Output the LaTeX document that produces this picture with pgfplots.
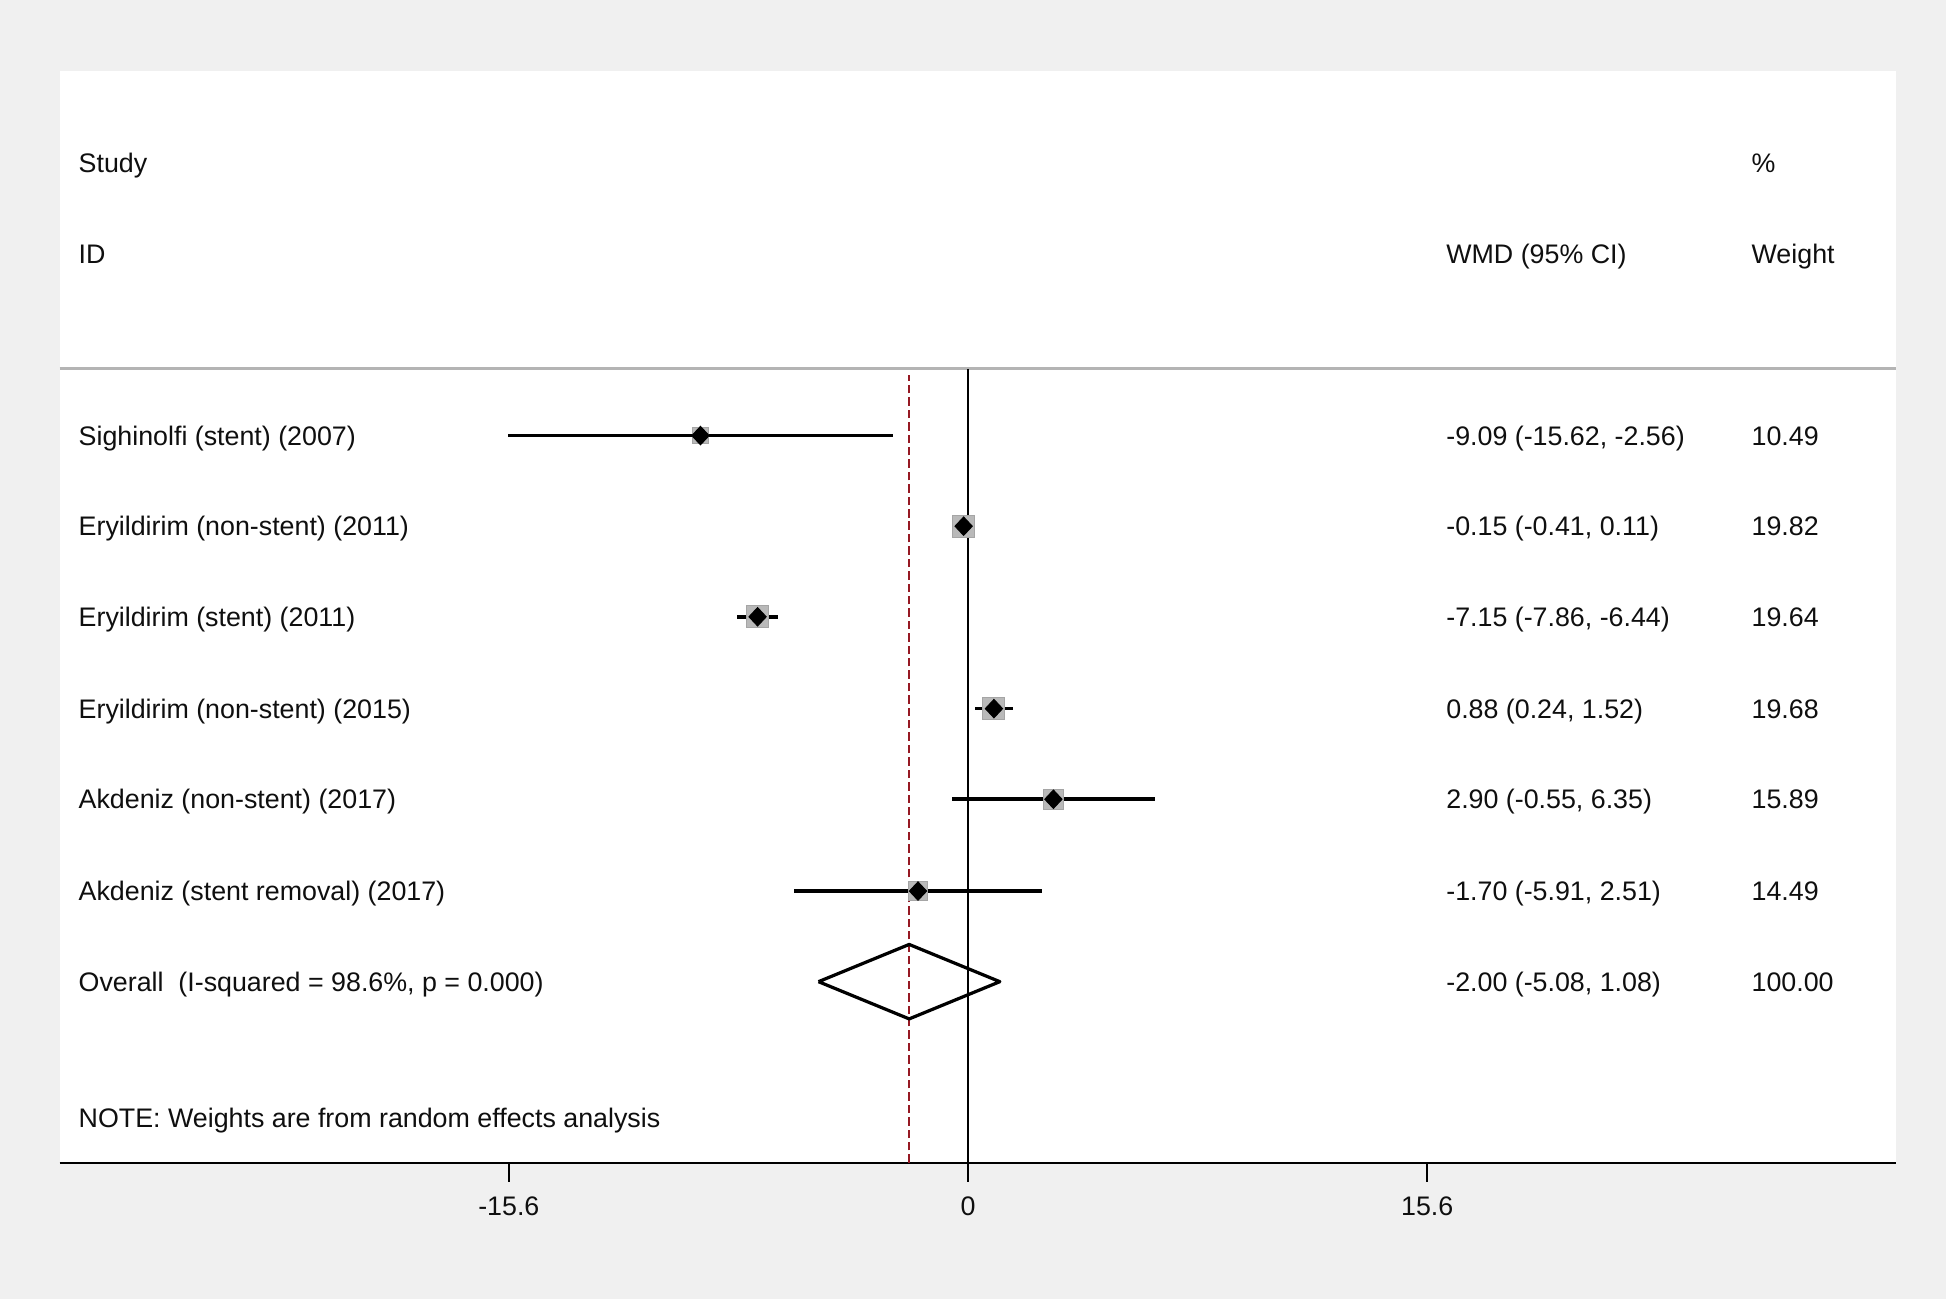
\documentclass[border=0pt]{standalone}
\usepackage{fontspec}
\setmainfont{Liberation Sans}
\usepackage{pgfplots}
\usepackage{pgfplotstable}
\pgfplotsset{compat=1.18}
\definecolor{bgc}{RGB}{240,240,240}
\definecolor{sepgray}{RGB}{180,180,180}
\definecolor{redd}{RGB}{150,25,35}
\definecolor{boxfill}{RGB}{185,185,185}
\definecolor{boxedge}{RGB}{165,165,165}
\definecolor{txt}{RGB}{15,15,15}
\tikzset{tx/.style={anchor=base west, inner sep=0pt, yshift=-3.85pt, text=txt,
    font=\fontsize{10.8}{12}\selectfont}}

% x = WMD, y = row position, w = % weight
\pgfplotstableread{
x lo hi w y
-9.09 -15.62 -2.56 10.49 696
-0.15 -0.41 0.11 19.82 623
-7.15 -7.86 -6.44 19.64 550
0.88 0.24 1.52 19.68 476
2.90 -0.55 6.35 15.89 403
-1.70 -5.91 2.51 14.49 329
}\studies

\begin{document}
\begin{tikzpicture}
\fill[bgc] (-24pt,-55pt) rectangle (760pt,468.5pt);
\begin{axis}[
  width=740pt, height=440pt, scale only axis,
  xmin=-30.863, xmax=31.537, ymin=110, ymax=990,
  axis x line*=bottom, axis y line=none,
  x axis line style={line width=1.1pt, black},
  xtick={-15.6,0,15.6}, xticklabels={}, ytick=\empty,
  tick align=outside, major tick length=7.6pt,
  xtick style={black, line width=0.7pt},
  axis background/.style={fill=white},
  clip=false,
]
% separator line
\draw[sepgray, line width=0.9pt] (axis cs:-30.863,750) -- (axis cs:31.537,750);
% null line
\addplot[black, line width=0.9pt] coordinates {(0,110) (0,750)};
% overall effect line
\addplot[redd, line width=0.7pt, dash pattern=on 3.4pt off 1.6pt] coordinates {(-2.00,110) (-2.00,745)};
% weight boxes
\addplot[scatter, only marks, mark=square*,
  visualization depends on={sqrt(\thisrow{w})\as\wsize},
  scatter/use mapped color={draw=boxedge, fill=boxfill},
  scatter/@pre marker code/.append style={/tikz/mark size=\wsize}]
  table[x=x, y=y]{\studies};
% confidence intervals
\addplot[black, only marks, mark=none,
  error bars/.cd, x dir=both, x explicit,
  error bar style={line width=1.5pt, black}, error mark=none]
  table[x=x, y=y, x error plus expr=\thisrow{hi}-\thisrow{x},
        x error minus expr=\thisrow{x}-\thisrow{lo}]{\studies};
% point estimates
\addplot[only marks, mark=diamond*, mark size=3.7pt,
  mark options={black, fill=black, xscale=1.25}]
  table[x=x, y=y]{\studies};
% overall diamond
\addplot[black, line width=1.3pt, line join=round]
  coordinates {(-5.08,256) (-2.00,286) (1.08,256) (-2.00,226) (-5.08,256)};

% headers
\node[tx] at (axis cs:-30.230,916) {Study};
\node[tx] at (axis cs:-30.230,842) {ID};
\node[tx] at (axis cs:16.232,842) {WMD (95\% CI)};
\node[tx] at (axis cs:26.604,916) {\%};
\node[tx] at (axis cs:26.604,842) {Weight};
% study labels
\node[tx] at (axis cs:-30.230,696) {Sighinolfi (stent) (2007)};
\node[tx] at (axis cs:-30.230,623) {Eryildirim (non-stent) (2011)};
\node[tx] at (axis cs:-30.230,550) {Eryildirim (stent) (2011)};
\node[tx] at (axis cs:-30.230,476) {Eryildirim (non-stent) (2015)};
\node[tx] at (axis cs:-30.230,403) {Akdeniz (non-stent) (2017)};
\node[tx] at (axis cs:-30.230,329) {Akdeniz (stent removal) (2017)};
\node[tx] at (axis cs:-30.230,256) {Overall\ \ (I-squared = 98.6\%, p = 0.000)};
\node[tx] at (axis cs:-30.230,146) {NOTE: Weights are from random effects analysis};
% effect sizes
\node[tx] at (axis cs:16.232,696) {-9.09 (-15.62, -2.56)};
\node[tx] at (axis cs:16.232,623) {-0.15 (-0.41, 0.11)};
\node[tx] at (axis cs:16.232,550) {-7.15 (-7.86, -6.44)};
\node[tx] at (axis cs:16.232,476) {0.88 (0.24, 1.52)};
\node[tx] at (axis cs:16.232,403) {2.90 (-0.55, 6.35)};
\node[tx] at (axis cs:16.232,329) {-1.70 (-5.91, 2.51)};
\node[tx] at (axis cs:16.232,256) {-2.00 (-5.08, 1.08)};
% weights
\node[tx] at (axis cs:26.604,696) {10.49};
\node[tx] at (axis cs:26.604,623) {19.82};
\node[tx] at (axis cs:26.604,550) {19.64};
\node[tx] at (axis cs:26.604,476) {19.68};
\node[tx] at (axis cs:26.604,403) {15.89};
\node[tx] at (axis cs:26.604,329) {14.49};
\node[tx] at (axis cs:26.604,256) {100.00};
% tick labels
\node[tx, anchor=base] at (axis cs:-15.6,75) {-15.6};
\node[tx, anchor=base] at (axis cs:0,75) {0};
\node[tx, anchor=base] at (axis cs:15.6,75) {15.6};
\end{axis}
\end{tikzpicture}
\end{document}
